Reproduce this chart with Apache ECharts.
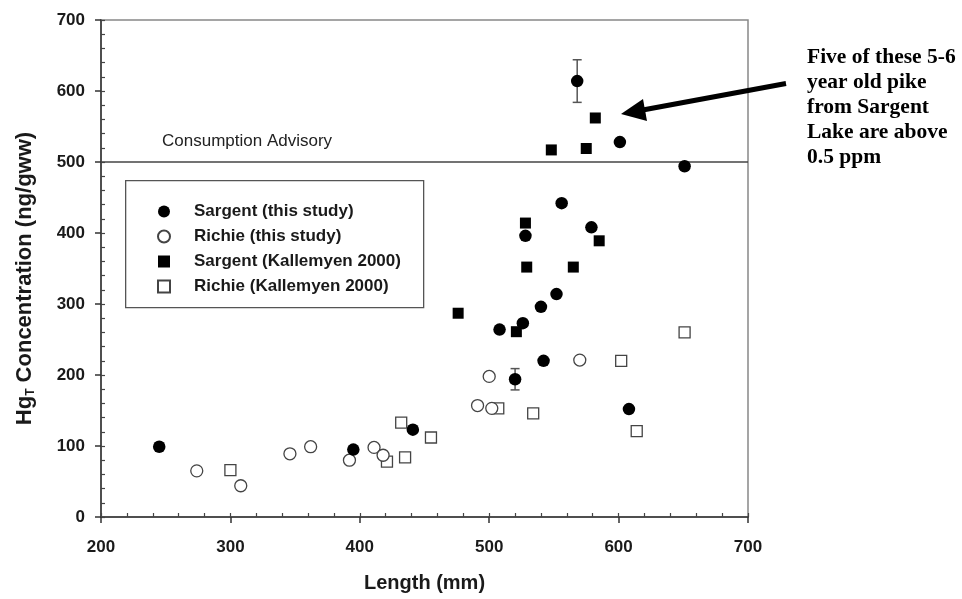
<!DOCTYPE html>
<html>
<head>
<meta charset="utf-8">
<title>Hg concentration vs length</title>
<script src="https://cdn.jsdelivr.net/npm/echarts@6/dist/echarts.min.js"></script>
<style>
  html, body { margin: 0; padding: 0; background: #fff; }
  #chart { width: 962px; height: 599px; }
</style>
</head>
<body>
<div id="chart"></div>
<script>
// Length (mm) vs total Hg concentration (ng/g wet weight)
const sargentThisStudy = [
  [245, 99], [395, 95], [441, 123], [508, 264], [520, 194], [526, 273],
  [528, 396], [540, 296], [542, 220], [552, 314], [556, 442], [568, 614],
  [579, 408], [601, 528], [608, 152], [651, 494]
];
const richieThisStudy = [
  [274, 65], [308, 44], [346, 89], [362, 99], [392, 80], [411, 98],
  [418, 87], [491, 157], [500, 198], [502, 153], [570, 221]
];
const sargentKallemyen = [
  [476, 287], [521, 261], [528, 414], [529, 352], [548, 517],
  [565, 352], [575, 519], [582, 562], [585, 389]
];
const richieKallemyen = [
  [300, 66], [421, 78], [432, 133], [435, 84], [455, 112],
  [507, 153], [534, 146], [602, 220], [614, 121], [651, 260]
];
// [length, mean, half-range] for the two points with error bars
const errorBars = [[520, 194, 15], [568, 614, 30]];
const advisoryLevel = 500;

const xTicks = { min: 200, max: 700, major: 100, minor: 20 };
const yTicks = { min: 0, max: 700, major: 100, minor: 20 };

const seriesNames = [
  'Sargent (this study)',
  'Richie (this study)',
  'Sargent (Kallemyen 2000)',
  'Richie (Kallemyen 2000)'
];

const chart = echarts.init(document.getElementById('chart'), null, { renderer: 'canvas' });

const axisFont = { fontFamily: 'Liberation Sans, Arial, sans-serif', fontWeight: 'bold', fontSize: 17, color: '#1a1a1a' };

const openStyle = { color: '#fff', borderColor: '#444', borderWidth: 1.3, opacity: 1 };
const solidStyle = { color: '#000', opacity: 1 };

chart.setOption({
  animation: false,
  backgroundColor: '#fff',
  grid: {
    left: 101, right: 214, top: 20, bottom: 82,
    show: true, borderColor: '#888', borderWidth: 1.5, backgroundColor: 'transparent'
  },
  legend: {
    orient: 'vertical',
    left: 152, top: 198,
    itemWidth: 12, itemHeight: 12, itemGap: 8,
    selectedMode: false,
    textStyle: {
      fontFamily: 'Liberation Sans, Arial, sans-serif', fontWeight: 'bold',
      fontSize: 17, lineHeight: 17, color: '#1a1a1a', padding: [0, 0, 0, 19]
    },
    data: seriesNames
  },
  xAxis: [{
    type: 'value', min: xTicks.min, max: xTicks.max, interval: xTicks.major,
    name: 'Length (mm)', nameLocation: 'middle', nameGap: 56,
    nameTextStyle: { fontFamily: 'Liberation Sans, Arial, sans-serif', fontWeight: 'bold', fontSize: 20, color: '#1a1a1a' },
    axisLine: { show: true, lineStyle: { color: '#333', width: 1.5 } },
    axisTick: { show: true, inside: false, length: 6, lineStyle: { color: '#333', width: 1.5 } },
    axisLabel: Object.assign({ margin: 22 }, axisFont),
    splitLine: { show: false }
  }, {
    type: 'value', min: xTicks.min, max: xTicks.max, interval: xTicks.minor,
    position: 'bottom',
    axisLine: { show: false },
    axisTick: { show: true, inside: true, length: 4, lineStyle: { color: '#444', width: 1.2 } },
    axisLabel: { show: false },
    splitLine: { show: false }
  }],
  yAxis: [{
    type: 'value', min: yTicks.min, max: yTicks.max, interval: yTicks.major,
    name: '{hg|Hg}{t|T}{hg| Concentration (ng/gww)}',
    nameLocation: 'middle', nameGap: 64, nameRotate: 90,
    nameTextStyle: {
      padding: [0, 20, 0, 0],
      rich: {
        hg: { fontFamily: 'Liberation Sans, Arial, sans-serif', fontWeight: 'bold', fontSize: 22, color: '#1a1a1a', lineHeight: 24 },
        t: { fontFamily: 'Liberation Sans, Arial, sans-serif', fontWeight: 'bold', fontSize: 12, color: '#1a1a1a', lineHeight: 24, verticalAlign: 'bottom', padding: [10, 0, 0, 0] }
      }
    },
    axisLine: { show: true, lineStyle: { color: '#333', width: 1.5 } },
    axisTick: { show: true, inside: false, length: 6, lineStyle: { color: '#333', width: 1.5 } },
    axisLabel: Object.assign({ margin: 16 }, axisFont),
    splitLine: { show: false }
  }, {
    type: 'value', min: yTicks.min, max: yTicks.max, interval: yTicks.minor,
    position: 'left',
    axisLine: { show: false },
    axisTick: { show: true, inside: true, length: 4, lineStyle: { color: '#444', width: 1.2 } },
    axisLabel: { show: false },
    splitLine: { show: false }
  }],
  series: [
    {
      name: 'advisory', type: 'line', data: [], silent: true,
      markLine: {
        silent: true, symbol: 'none', animation: false,
        lineStyle: { color: '#444', width: 1.5, type: 'solid' },
        label: { show: false },
        data: [{ yAxis: advisoryLevel }]
      }
    },
    {
      name: 'errors', type: 'custom', data: errorBars, silent: true, z: 1,
      renderItem: function (params, api) {
        const x = api.value(0), y = api.value(1), e = api.value(2);
        const top = api.coord([x, y + e]);
        const bot = api.coord([x, y - e]);
        const cap = 4.5;
        const st = { stroke: '#555', lineWidth: 1.5 };
        return {
          type: 'group',
          children: [
            { type: 'line', shape: { x1: top[0], y1: top[1], x2: bot[0], y2: bot[1] }, style: st },
            { type: 'line', shape: { x1: top[0] - cap, y1: top[1], x2: top[0] + cap, y2: top[1] }, style: st },
            { type: 'line', shape: { x1: bot[0] - cap, y1: bot[1], x2: bot[0] + cap, y2: bot[1] }, style: st }
          ]
        };
      }
    },
    {
      name: seriesNames[3], type: 'scatter', data: richieKallemyen, z: 2,
      symbol: 'rect', symbolSize: 11, itemStyle: openStyle
    },
    {
      name: seriesNames[1], type: 'scatter', data: richieThisStudy, z: 3,
      symbol: 'circle', symbolSize: 12, itemStyle: openStyle
    },
    {
      name: seriesNames[2], type: 'scatter', data: sargentKallemyen, z: 4,
      symbol: 'rect', symbolSize: 11, itemStyle: solidStyle
    },
    {
      name: seriesNames[0], type: 'scatter', data: sargentThisStudy, z: 5,
      symbol: 'circle', symbolSize: 12.5, itemStyle: solidStyle
    }
  ],
  graphic: [
    {
      type: 'rect', left: 125, top: 180, z: 0, silent: true,
      shape: { width: 298, height: 127 },
      style: { fill: '#fff', stroke: '#555', lineWidth: 1.3 }
    },
    {
      type: 'text', left: 162, top: 133, silent: true,
      style: { text: 'Consumption Advisory', font: '17px "Liberation Sans", Arial, sans-serif', fill: '#222' }
    },
    {
      type: 'line', silent: true,
      shape: { x1: 640, y1: 110.5, x2: 786, y2: 83.5 },
      style: { stroke: '#000', lineWidth: 5 }
    },
    {
      type: 'polygon', silent: true,
      shape: { points: [[621, 114], [647, 121], [643, 99]] },
      style: { fill: '#000' }
    },
    {
      type: 'text', left: 807, top: 45, silent: true,
      style: {
        text: 'Five of these 5-6\nyear old pike\nfrom Sargent\nLake are above\n0.5 ppm',
        font: 'bold 21.5px "Liberation Serif", "Times New Roman", serif',
        lineHeight: 25, fill: '#000'
      }
    }
  ]
});
</script>
</body>
</html>
